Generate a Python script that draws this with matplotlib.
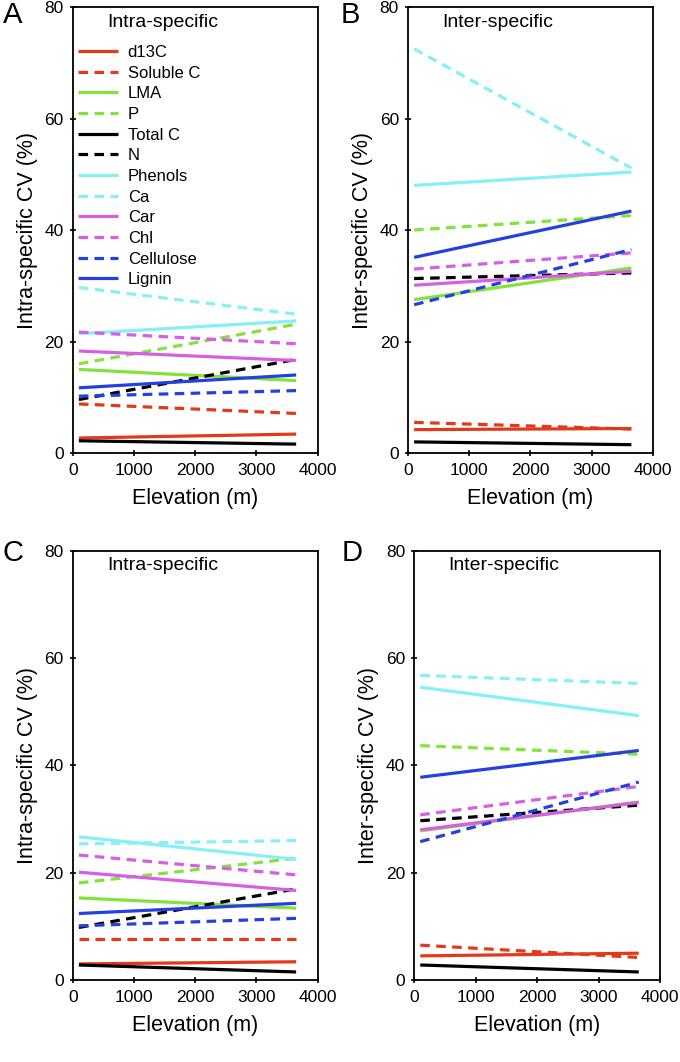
import numpy as np
import matplotlib.pyplot as plt

plt.rcParams['font.family'] = ['Liberation Sans', 'DejaVu Sans']

elev = [100, 3650]

traits = ['d13C', 'Soluble C', 'LMA', 'P', 'Total C', 'N', 'Phenols', 'Ca',
          'Car', 'Chl', 'Cellulose', 'Lignin']
colors = ['#e4381a', '#e4381a', '#84e23c', '#84e23c', '#000000', '#000000',
          '#86f0f6', '#86f0f6', '#d85ee6', '#d85ee6', '#2440de', '#2440de']
dashed = [False, True, False, True, False, True, False, True, False, True, True, False]

# start / end CV values (%) at low and high elevation
cv_a = [(2.7, 3.4), (8.8, 7.1), (15.0, 13.0), (16.0, 23.1), (2.2, 1.6), (9.6, 16.8),
        (21.4, 23.7), (29.7, 24.9), (18.3, 16.6), (21.7, 19.6), (10.2, 11.2), (11.7, 14.0)]
cv_b = [(4.2, 4.4), (5.5, 4.3), (27.5, 33.2), (40.0, 42.6), (2.0, 1.5), (31.3, 32.3),
        (48.0, 50.4), (72.5, 51.1), (30.1, 32.6), (33.0, 35.9), (26.6, 36.5), (35.1, 43.4)]
cv_c = [(3.0, 3.4), (7.6, 7.6), (15.3, 13.4), (18.1, 22.7), (2.8, 1.5), (9.8, 17.0),
        (26.7, 22.5), (25.4, 26.0), (20.1, 16.7), (23.3, 19.6), (10.1, 11.5), (12.4, 14.3)]
cv_d = [(4.5, 5.0), (6.5, 4.2), (27.8, 33.2), (43.7, 42.1), (2.8, 1.5), (29.7, 32.6),
        (54.6, 49.3), (56.8, 55.3), (28.0, 33.1), (30.8, 36.1), (25.8, 36.9), (37.8, 42.8)]

fig = plt.figure(figsize=(6.8, 10.62), dpi=100)

# letter, axes rect, data, title, y label, letter position (px from top-left)
panels = [
    ('A', [0.107, 0.5734, 0.360, 0.420], cv_a, 'Intra-specific', 'Intra-specific CV (%)', (13, 15)),
    ('B', [0.600, 0.5734, 0.360, 0.420], cv_b, 'Inter-specific', 'Inter-specific CV (%)', (350, 15)),
    ('C', [0.107, 0.0772, 0.360, 0.404], cv_c, 'Intra-specific', 'Intra-specific CV (%)', (13, 553)),
    ('D', [0.609, 0.0772, 0.362, 0.404], cv_d, 'Inter-specific', 'Inter-specific CV (%)', (352, 553)),
]

for letter, pos, data, title, ylab, lp in panels:
    ax = fig.add_axes(pos)
    for i in range(len(traits)):
        ls = (0, (3, 2)) if dashed[i] else '-'
        ax.plot(elev, data[i], color=colors[i], lw=2.3, ls=ls, label=traits[i],
                solid_capstyle='butt', dash_capstyle='butt')
    ax.set_xlim(0, 4000)
    ax.set_ylim(0, 80)
    ax.set_xticks([0, 1000, 2000, 3000, 4000])
    ax.set_yticks([0, 20, 40, 60, 80])
    ax.tick_params(direction='inout', length=5, width=1.2, labelsize=12.5)
    ax.tick_params(axis='x', pad=5)
    ax.tick_params(axis='y', pad=4)
    for s in ax.spines.values():
        s.set_linewidth(1.3)
    ax.set_xlabel('Elevation (m)', fontsize=15.5, labelpad=7)
    ax.set_ylabel(ylab, fontsize=15.5, labelpad=5)
    ax.text(0.14, 0.965, title, transform=ax.transAxes, fontsize=14, va='center', ha='left')
    fig.text(lp[0] / 680, 1 - lp[1] / 1062, letter, fontsize=21, va='center', ha='center')
    if letter == 'A':
        ax.legend(loc='upper left', bbox_to_anchor=(0.02, 0.915), frameon=False, fontsize=12,
                  handlelength=2.4, handletextpad=0.6, labelspacing=0.34, borderpad=0,
                  borderaxespad=0)

fig.savefig('out.png', dpi=100)
